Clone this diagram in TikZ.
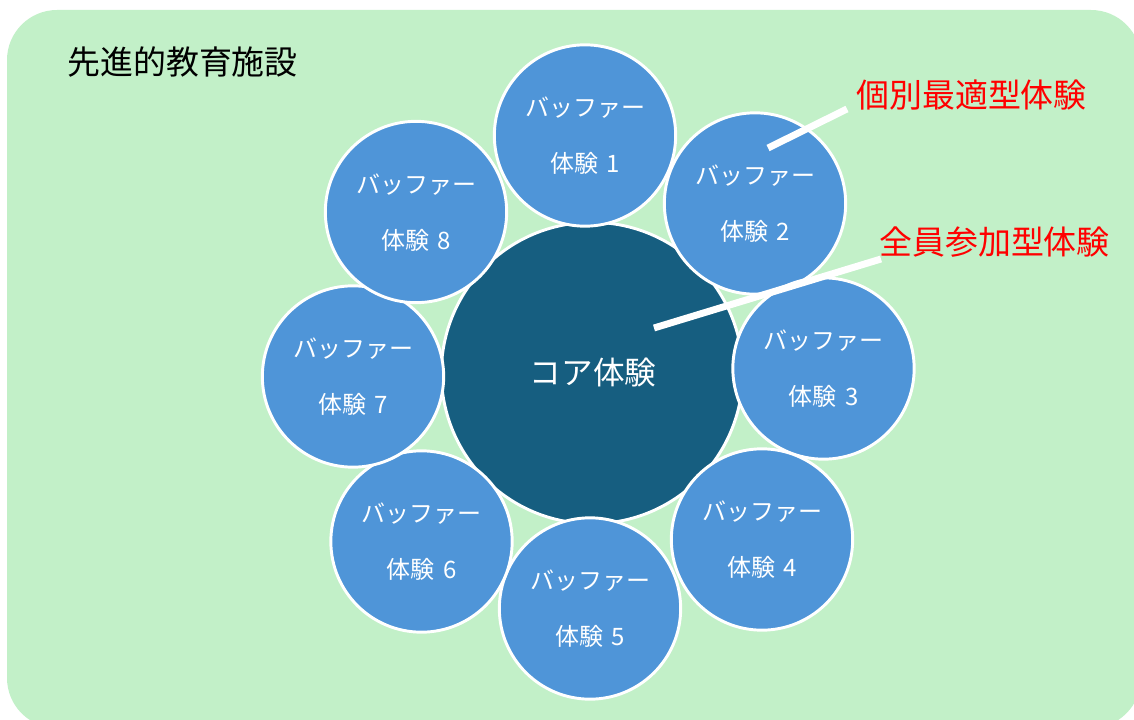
\documentclass[tikz,border=0pt]{standalone}
\usepackage{fontspec}
\setmainfont{Noto Sans CJK JP}
\definecolor{bggreen}{RGB}{194,240,200}
\definecolor{bufblue}{RGB}{79,149,216}
\definecolor{coreblue}{RGB}{22,94,128}
\definecolor{lblred}{RGB}{255,0,0}
\tikzset{
  bufnode/.style={circle, fill=bufblue, draw=white, line width=2.2pt, minimum size=136pt, inner sep=0pt},
  corenode/.style={circle, fill=coreblue, draw=white, line width=2.2pt, minimum size=226pt, inner sep=0pt},
  buftext/.style={text=white, font=\fontsize{18}{21}\selectfont, inner sep=0pt},
  redlabel/.style={text=lblred, font=\fontsize{24.7}{28}\selectfont, inner sep=0pt, anchor=west},
  callout/.style={draw=white, line width=5.2pt},
}
\begin{document}
\begin{tikzpicture}[x=0.75pt, y=-0.75pt]
\useasboundingbox (0,0) rectangle (1134,720);
\begin{scope}
\clip (0,0) rectangle (1134,720);
\fill[bggreen, rounded corners=37.5pt] (7,10) rectangle (1141,728);
\end{scope}
\node[anchor=west, inner sep=0pt, font=\fontsize{24.7}{28}\selectfont] (title) at (67,62) {先進的教育施設};
\node[corenode] (core) at (592,373) {};
\node[text=white, font=\fontsize{23.7}{28}\selectfont, inner sep=0pt] (coretext) at (593,373) {コア体験};
\foreach \n/\x/\y in {1/585/135.5, 2/755/203.5, 3/823.5/368.5, 4/762/539.5, 5/590/608.5, 6/421.5/541.5, 7/353/376.5, 8/416/212} {
  \node[bufnode] (b\n) at (\x,\y) {};
  \node[buftext] (b\n top) at (\x,\y-27.5) {バッファー};
  \node[buftext] (b\n bot) at (\x,\y+28) {体験\hspace{0.35em}\n};
}
\node[redlabel] (lbl1) at (856,95) {個別最適型体験};
\node[redlabel] (lbl2) at (879,242) {全員参加型体験};
\coordinate (p1a) at (768,148);
\coordinate (p1b) at (847,109);
\coordinate (p2a) at (654,328);
\coordinate (p2b) at (881,259);
\draw[callout] (p1a) -- (p1b);
\draw[callout] (p2a) -- (p2b);
\end{tikzpicture}
\end{document}
